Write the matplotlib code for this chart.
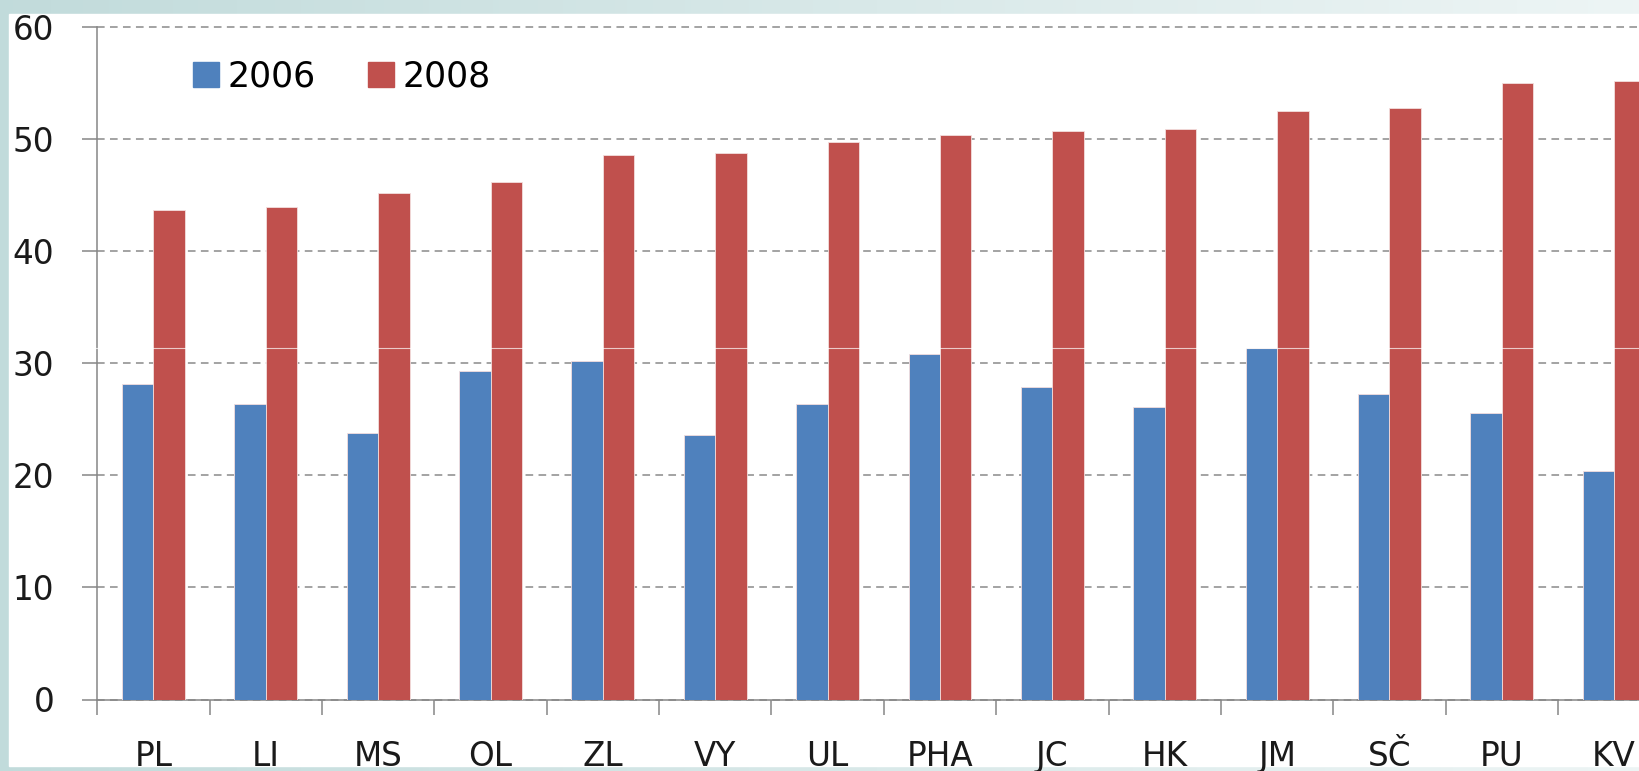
import matplotlib.pyplot as plt
import numpy as np
from matplotlib.patches import Rectangle
from matplotlib.lines import Line2D

plt.rcParams['font.family'] = ['DejaVu Sans']

# --- data ---
regions = ["PL", "LI", "MS", "OL", "ZL", "VY", "UL", "PHA", "JC", "HK", "JM", "SČ", "PU", "KV"]
v2006 = [28.2, 26.4, 23.8, 29.3, 30.2, 23.6, 26.4, 30.8, 27.9, 26.1, 31.4, 27.3, 25.6, 20.4]
v2008 = [43.7, 44.0, 45.2, 46.2, 48.6, 48.8, 49.8, 50.4, 50.7, 50.9, 52.5, 52.8, 55.0, 55.2]
yticks = [0, 10, 20, 30, 40, 50, 60]

BLUE = "#4F81BD"
RED = "#C0504D"
GREY = "#868686"

W, H = 1639, 771
fig = plt.figure(figsize=(W / 100, H / 100), dpi=100)

# background gradient outside the white slide panel
bg = fig.add_axes([0, 0, 1, 1], zorder=-10)
grad = np.linspace(0, 1, 256)[None, :]
cols = np.array([[0.76, 0.86, 0.86], [0.93, 0.96, 0.96]])
img = cols[0] + (cols[1] - cols[0]) * grad[..., None]
bg.imshow(img, aspect="auto", extent=[0, 1, 0, 1])
bg.add_patch(Rectangle((9 / W, 1 - 766 / H), 1, (766 - 14) / H, color="white"))
bg.set_xlim(0, 1)
bg.set_ylim(0, 1)
bg.axis("off")

# main axes (runs off the right edge, like the reference)
left = 97.3 / W
right = (97.3 + 14 * 112.36) / W
bottom = (H - 699.5) / H
top = (H - 27.3) / H
ax = fig.add_axes([left, bottom, right - left, top - bottom])
ax.set_facecolor("none")

x = np.arange(len(regions))
bw = 0.28
ax.bar(x - bw / 2, v2006, width=bw, color=BLUE, edgecolor="#f3dede", linewidth=0.6, zorder=3)
ax.bar(x + bw / 2, v2008, width=bw, color=RED, edgecolor="#f3dede", linewidth=0.6, zorder=3)

ax.set_xlim(-0.5, len(regions) - 0.5)
ax.set_ylim(0, 60)
ax.set_yticks(yticks)
ax.set_yticklabels([str(t) for t in yticks])

# category boundary ticks, labels centred between
ax.set_xticks(np.arange(len(regions) + 1) - 0.5)
ax.set_xticklabels([])
ax.set_xticks(x, minor=True)
ax.set_xticklabels(regions, minor=True)
ax.tick_params(axis="x", which="major", length=11, width=1.1, color=GREY, direction="out")
ax.tick_params(axis="x", which="minor", length=0, pad=29, labelsize=23.5, labelcolor="#1a1a1a")
ax.tick_params(axis="y", length=11, width=1.1, color=GREY, direction="out", pad=20,
               labelsize=23.5, labelcolor="#1a1a1a")

ax.yaxis.grid(True, color="#8a8a8a", linestyle=(0, (5, 3.5)), linewidth=1.1, zorder=0)
for gl in ax.get_ygridlines():
    gl.set_clip_on(False)
ax.set_axisbelow(True)
for s in ["top", "right"]:
    ax.spines[s].set_visible(False)
for s in ["left", "bottom"]:
    ax.spines[s].set_color(GREY)
    ax.spines[s].set_linewidth(1.1)

handles = [Rectangle((0, 0), 1, 1, color=BLUE), Rectangle((0, 0), 1, 1, color=RED)]
fig.legend(handles, ["2006", "2008"], loc="center left",
           bbox_to_anchor=(193 / W, 1 - 76.5 / H), ncol=2, frameon=False,
           fontsize=25, handlelength=0.74, handleheight=0.74, handletextpad=0.26,
           columnspacing=1.5, borderpad=0, borderaxespad=0)

# faint horizontal scan line seen across the slide
fig.add_artist(Line2D([9 / W, 1], [1 - 348 / H] * 2, color="white", alpha=0.7, linewidth=0.8))

fig.savefig("out.png", dpi=100)
